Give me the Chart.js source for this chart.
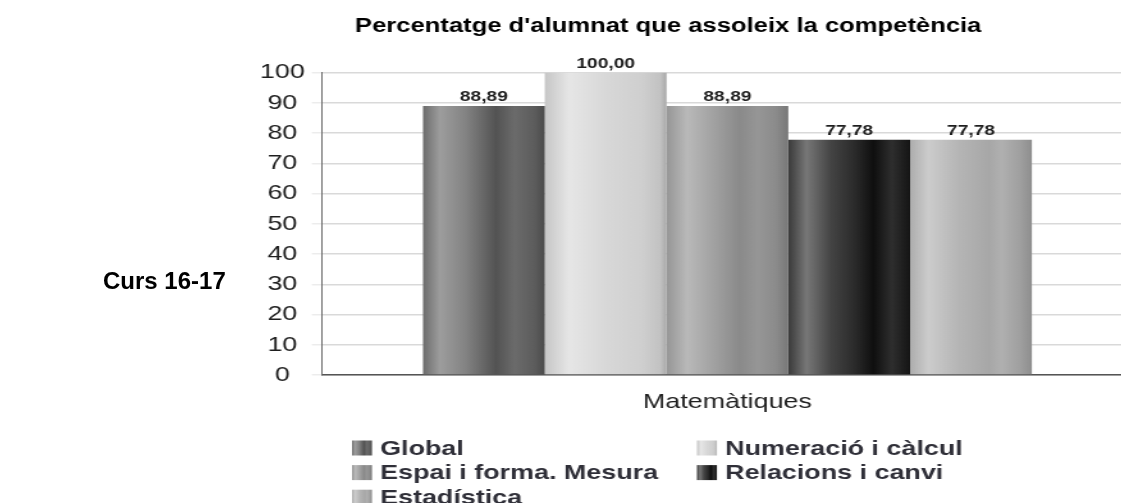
<!DOCTYPE html>
<html>
<head>
<meta charset="utf-8">
<script src="https://cdn.jsdelivr.net/npm/chart.js@4/dist/chart.umd.min.js"></script>
<style>
    html, body { margin: 0; padding: 0; background: #fff; overflow: hidden; }
    #wrap { position: relative; width: 1121px; height: 503px; overflow: hidden; }
    #stretch {
        position: absolute; left: 0; top: 0; width: 890px; height: 520px;
        transform: scaleX(1.28); transform-origin: 0 0;
    }
    #chart { display: block; width: 890px; height: 520px; }
    #side {
        position: absolute; left: 103px; top: 269px;
        font: bold 24px "Liberation Sans", Arial, sans-serif; line-height: 24px;
        color: #000; white-space: nowrap;
    }
</style>
</head>
<body>
<div id="wrap">
    <div id="stretch"><canvas id="chart" width="890" height="520"></canvas></div>
    <div id="side">Curs 16-17</div>
</div>
<script>
// Data
const titleText = "Percentatge d'alumnat que assoleix la competència";
const categories = ['Matemàtiques'];
const seriesNames = ['Global', 'Numeració i càlcul', 'Espai i forma. Mesura', 'Relacions i canvi', 'Estadística'];
const globalValues = [88.89];
const numeracioValues = [100.00];
const espaiValues = [88.89];
const relacionsValues = [77.78];
const estadisticaValues = [77.78];
const yMin = 0;
const yMax = 100;
const yStep = 10;

// Vertical stripe shading of each bar (offset, colour)
const barStops = [
    [[0, '#6c6c6c'], [0.14, '#9d9d9d'], [0.35, '#838383'], [0.6, '#535353'], [0.75, '#6b6b6b'], [0.92, '#5c5c5c'], [1, '#4a4a4a']],
    [[0, '#c6c6c6'], [0.2, '#e6e6e6'], [0.5, '#d8d8d8'], [0.8, '#cfcfcf'], [0.95, '#c2c2c2'], [1, '#a8a8a8']],
    [[0, '#969696'], [0.17, '#b9b9b9'], [0.4, '#a0a0a0'], [0.6, '#8a8a8a'], [0.75, '#969696'], [0.9, '#8b8b8b'], [1, '#787878']],
    [[0, '#3a3a3a'], [0.15, '#777777'], [0.35, '#444444'], [0.55, '#2a2a2a'], [0.7, '#0f0f0f'], [0.85, '#2e2e2e'], [1, '#151515']],
    [[0, '#adadad'], [0.15, '#cccccc'], [0.4, '#b5b5b5'], [0.65, '#a7a7a7'], [0.75, '#b0b0b0'], [0.9, '#a0a0a0'], [1, '#8e8e8e']]
];

const FONT = '"Liberation Sans", Arial, sans-serif';

function makeGradient(ctx, x0, x1, stops) {
    const g = ctx.createLinearGradient(x0, 0, x1, 0);
    stops.forEach(s => g.addColorStop(s[0], s[1]));
    return g;
}

function formatValue(v) {
    return v.toFixed(2).replace('.', ',');
}

// Paint the striped gradient on each bar
const barShade = {
    id: 'barShade',
    beforeDatasetsDraw(chart) {
        const ctx = chart.ctx;
        chart.data.datasets.forEach((ds, i) => {
            chart.getDatasetMeta(i).data.forEach(bar => {
                const left = bar.x - bar.width / 2;
                bar.options = Object.assign({}, bar.options, {
                    backgroundColor: makeGradient(ctx, left, left + bar.width, barStops[i])
                });
            });
        });
    }
};

// Value labels above the bars
const valueLabels = {
    id: 'valueLabels',
    afterDatasetsDraw(chart) {
        const ctx = chart.ctx;
        ctx.save();
        ctx.font = 'bold 15px ' + FONT;
        ctx.textAlign = 'center';
        ctx.textBaseline = 'alphabetic';
        ctx.fillStyle = '#1e1e1e';
        chart.data.datasets.forEach((ds, i) => {
            chart.getDatasetMeta(i).data.forEach((bar, j) => {
                ctx.fillText(formatValue(ds.data[j]), bar.x, bar.y - 5);
            });
        });
        ctx.restore();
    }
};

// Two column legend under the chart
const gridLegend = {
    id: 'gridLegend',
    afterDraw(chart) {
        const ctx = chart.ctx;
        const colX = [275, 544.5];
        const rowY = 448;
        const rowGap = 24.6;
        ctx.save();
        ctx.font = 'bold 21px ' + FONT;
        ctx.textAlign = 'left';
        ctx.textBaseline = 'middle';
        chart.data.datasets.forEach((ds, i) => {
            const bx = colX[i % 2];
            const cy = rowY + Math.floor(i / 2) * rowGap;
            ctx.fillStyle = makeGradient(ctx, bx, bx + 15.6, barStops[i]);
            ctx.fillRect(bx, cy - 7.5, 15.6, 15);
            ctx.fillStyle = '#2f2f38';
            ctx.fillText(ds.label, bx + 22, cy + 1);
        });
        ctx.restore();
    }
};

const seriesValues = [globalValues, numeracioValues, espaiValues, relacionsValues, estadisticaValues];

new Chart(document.getElementById('chart'), {
    type: 'bar',
    data: {
        labels: categories,
        datasets: seriesNames.map((name, i) => ({
            label: name,
            data: seriesValues[i],
            backgroundColor: barStops[i][2][1],
            borderWidth: 0,
            categoryPercentage: 0.751,
            barPercentage: 1
        }))
    },
    options: {
        responsive: false,
        devicePixelRatio: 1,
        animation: false,
        layout: {
            padding: { left: 159, right: 5, top: 0, bottom: 97.8 }
        },
        plugins: {
            legend: { display: false },
            tooltip: { enabled: false },
            title: {
                display: true,
                text: titleText,
                color: '#000',
                font: { family: FONT, size: 20, weight: 'bold' },
                padding: { top: 14, bottom: 34.5 }
            }
        },
        scales: {
            x: {
                grid: { display: false },
                border: { display: true, color: '#555', width: 1.5 },
                ticks: {
                    color: '#222',
                    font: { family: FONT, size: 21 },
                    padding: 7
                }
            },
            y: {
                min: yMin,
                max: yMax,
                afterFit(scale) {
                    scale.width = 92.6;
                },
                grid: {
                    color: '#d9d9d9',
                    lineWidth: 1.5,
                    drawTicks: true,
                    tickLength: 8,
                    tickColor: '#ececec'
                },
                border: { display: true, color: '#666', width: 1 },
                ticks: {
                    stepSize: yStep,
                    color: '#1e1e1e',
                    crossAlign: 'center',
                    padding: 5.5,
                    font: { family: FONT, size: 21 }
                }
            }
        }
    },
    plugins: [barShade, valueLabels, gridLegend]
});
</script>
</body>
</html>
